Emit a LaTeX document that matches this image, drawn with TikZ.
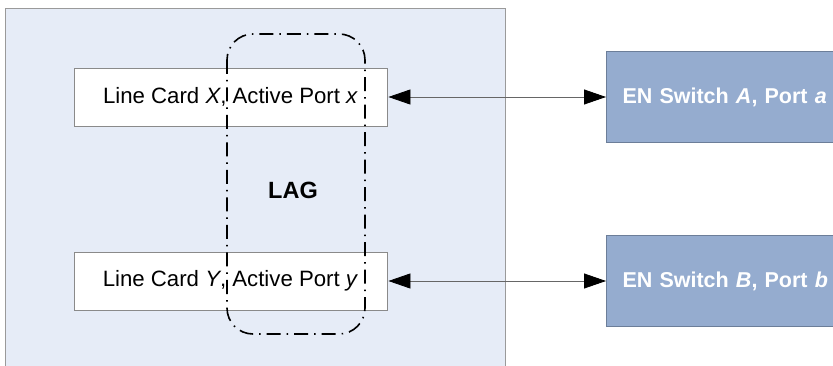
\documentclass[tikz,border=0pt]{standalone}
\usepackage{fontspec}
\setmainfont{Liberation Sans}
\usetikzlibrary{arrows.meta}
\definecolor{panelfill}{HTML}{E6ECF7}
\definecolor{panelline}{HTML}{9A9A9A}
\definecolor{swfill}{HTML}{95ACCF}
\definecolor{swline}{HTML}{6C7E99}
\definecolor{cardline}{HTML}{8A8A8A}
\tikzset{
  card/.style={draw=cardline, line width=0.8pt, fill=white, minimum width=313pt, minimum height=58pt, inner sep=0pt, font=\fontsize{22.2}{24}\selectfont},
  switchbox/.style={draw=swline, line width=1pt, fill=swfill, minimum width=300pt, minimum height=91pt, text width=268pt, align=left, inner xsep=16pt, inner ysep=0pt, anchor=west, text=white, font=\bfseries\fontsize{21.5}{24}\selectfont},
  lagbox/.style={draw=black, line width=1.6pt, rounded corners=26pt, dash pattern=on 14pt off 6pt on 1.5pt off 6pt},
  tip/.style={Triangle[length=22pt,width=15pt,color=black,fill=black]},
  link/.style={draw=gray!80!black, line width=0.8pt, {Triangle[length=22pt,width=15pt,color=black,fill=black]}-{Triangle[length=22pt,width=15pt,color=black,fill=black]}, shorten <=1pt},
}
\begin{document}
\begin{tikzpicture}[x=1pt,y=-1pt]
\useasboundingbox (0,0) rectangle (833,366);
\fill[white] (0,0) rectangle (833,366);
% panel
\draw[panelline, fill=panelfill, line width=1pt] (5,9) rectangle (505,380);
% line cards
\node[card] (lcx) at (230.5,97) {Line Card \textit{X}, Active Port \textit{x}};
\node[card] (lcy) at (230.5,281) {Line Card \textit{Y}, Active Port \textit{y}};
% LAG
\draw[lagbox] (227,34) rectangle (365,334);
\node[font=\bfseries\fontsize{23.5}{26}\selectfont] (lag) at (293,190) {LAG};
% switches
\node[switchbox] (swa) at (606,97) {EN Switch \textit{A}, Port \textit{a}};
\node[switchbox] (swb) at (606,281) {EN Switch \textit{B}, Port \textit{b}};
% links
\draw[link] (lcx.east) -- (swa.west);
\draw[link] (lcy.east) -- (swb.west);
\end{tikzpicture}
\end{document}
